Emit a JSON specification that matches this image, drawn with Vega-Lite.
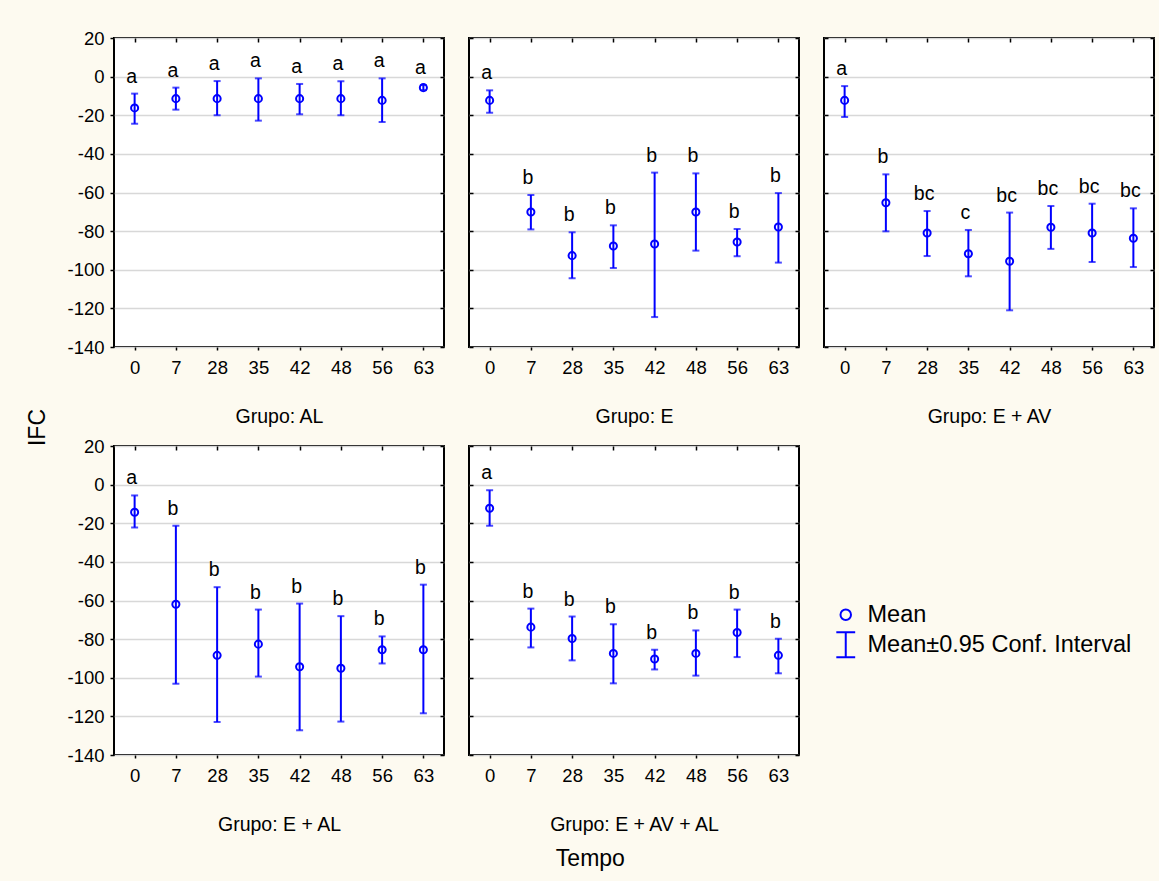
{
  "$schema": "https://vega.github.io/schema/vega-lite/v6.json",
  "background": "#fdfaf0",
  "padding": {"left": 25, "top": 28, "right": 4, "bottom": 12},
  "config": {
    "font": "Liberation Sans",
    "view": {"fill": "white", "stroke": "#000000", "strokeWidth": 2},
    "axis": {
      "labelFontSize": 18.5, "labelColor": "#000000", "tickColor": "#000000", "tickWidth": 1.5,
      "titleFontSize": 19.5, "titleFontWeight": "normal", "titleColor": "#000000",
      "gridColor": "#d8d8d8", "gridWidth": 1.5, "domain": false
    }
  },
  "title": {"text": "Tempo", "orient": "bottom", "anchor": "middle", "frame": "bounds", "fontSize": 23, "fontWeight": "normal", "color": "#000000", "offset": 13},
  "datasets": {
    "ifc": [
      {"g": "AL", "t": 0, "mean": -16.2, "lo": -24.4, "hi": -8.8, "lab": "a"},
      {"g": "AL", "t": 7, "mean": -11.4, "lo": -17.1, "hi": -5.7, "lab": "a"},
      {"g": "AL", "t": 28, "mean": -11.4, "lo": -20.0, "hi": -2.3, "lab": "a"},
      {"g": "AL", "t": 35, "mean": -11.4, "lo": -22.8, "hi": -0.9, "lab": "a"},
      {"g": "AL", "t": 42, "mean": -11.4, "lo": -19.5, "hi": -3.8, "lab": "a"},
      {"g": "AL", "t": 48, "mean": -11.4, "lo": -20.0, "hi": -2.4, "lab": "a"},
      {"g": "AL", "t": 56, "mean": -12.3, "lo": -23.5, "hi": -0.9, "lab": "a"},
      {"g": "AL", "t": 63, "mean": -5.7, "lo": -7.0, "hi": -4.4, "lab": "a"},
      {"g": "E", "t": 0, "mean": -12.3, "lo": -18.7, "hi": -7.1, "lab": "a"},
      {"g": "E", "t": 7, "mean": -70.1, "lo": -79.1, "hi": -61.3, "lab": "b"},
      {"g": "E", "t": 28, "mean": -92.7, "lo": -104.4, "hi": -80.6, "lab": "b"},
      {"g": "E", "t": 35, "mean": -87.7, "lo": -99.1, "hi": -77.0, "lab": "b"},
      {"g": "E", "t": 42, "mean": -86.7, "lo": -124.5, "hi": -49.7, "lab": "b"},
      {"g": "E", "t": 48, "mean": -70.1, "lo": -90.1, "hi": -50.1, "lab": "b"},
      {"g": "E", "t": 56, "mean": -85.6, "lo": -93.0, "hi": -78.9, "lab": "b"},
      {"g": "E", "t": 63, "mean": -77.9, "lo": -96.3, "hi": -60.3, "lab": "b"},
      {"g": "E + AV", "t": 0, "mean": -12.3, "lo": -20.9, "hi": -4.9, "lab": "a"},
      {"g": "E + AV", "t": 7, "mean": -65.3, "lo": -80.1, "hi": -50.6, "lab": "b"},
      {"g": "E + AV", "t": 28, "mean": -81.0, "lo": -92.9, "hi": -69.6, "lab": "bc"},
      {"g": "E + AV", "t": 35, "mean": -91.7, "lo": -103.4, "hi": -79.4, "lab": "c"},
      {"g": "E + AV", "t": 42, "mean": -95.6, "lo": -121.0, "hi": -70.4, "lab": "bc"},
      {"g": "E + AV", "t": 48, "mean": -78.0, "lo": -89.2, "hi": -67.0, "lab": "bc"},
      {"g": "E + AV", "t": 56, "mean": -81.0, "lo": -96.0, "hi": -65.8, "lab": "bc"},
      {"g": "E + AV", "t": 63, "mean": -83.7, "lo": -98.6, "hi": -68.2, "lab": "bc"},
      {"g": "E + AL", "t": 0, "mean": -14.3, "lo": -22.2, "hi": -5.6, "lab": "a"},
      {"g": "E + AL", "t": 7, "mean": -61.9, "lo": -103.1, "hi": -21.3, "lab": "b"},
      {"g": "E + AL", "t": 28, "mean": -88.4, "lo": -122.9, "hi": -53.1, "lab": "b"},
      {"g": "E + AL", "t": 35, "mean": -82.6, "lo": -99.4, "hi": -64.7, "lab": "b"},
      {"g": "E + AL", "t": 42, "mean": -94.3, "lo": -127.2, "hi": -61.6, "lab": "b"},
      {"g": "E + AL", "t": 48, "mean": -95.1, "lo": -122.7, "hi": -68.1, "lab": "b"},
      {"g": "E + AL", "t": 56, "mean": -85.5, "lo": -92.6, "hi": -78.6, "lab": "b"},
      {"g": "E + AL", "t": 63, "mean": -85.5, "lo": -118.4, "hi": -51.8, "lab": "b"},
      {"g": "E + AV + AL", "t": 0, "mean": -12.2, "lo": -21.3, "hi": -2.9, "lab": "a"},
      {"g": "E + AV + AL", "t": 7, "mean": -73.8, "lo": -84.3, "hi": -64.2, "lab": "b"},
      {"g": "E + AV + AL", "t": 28, "mean": -79.7, "lo": -91.0, "hi": -68.3, "lab": "b"},
      {"g": "E + AV + AL", "t": 35, "mean": -87.4, "lo": -102.9, "hi": -72.3, "lab": "b"},
      {"g": "E + AV + AL", "t": 42, "mean": -90.3, "lo": -95.7, "hi": -85.5, "lab": "b"},
      {"g": "E + AV + AL", "t": 48, "mean": -87.4, "lo": -98.9, "hi": -75.5, "lab": "b"},
      {"g": "E + AV + AL", "t": 56, "mean": -76.6, "lo": -89.3, "hi": -64.7, "lab": "b"},
      {"g": "E + AV + AL", "t": 63, "mean": -88.4, "lo": -97.7, "hi": -79.8, "lab": "b"}
    ]
  },
  "data": {"name": "ifc"},
  "columns": 3,
  "spacing": {"row": 99, "column": 25},
  "bounds": "flush",
  "concat": [
    {
      "width": 330, "height": 309,
      "transform": [{"filter": "datum.g === 'AL'"}],
      "layer": [
        {"mark": {"type": "rule", "color": "#0000ff", "strokeWidth": 2},
         "encoding": {
           "x": {"field": "t", "type": "ordinal", "scale": {"type": "point", "padding": 0.5}, "axis": {"orient": "bottom", "title": "Grupo: AL", "labelAngle": 0, "tickSize": 3, "labelPadding": 8, "titlePadding": 31, "grid": false}},
           "y": {"field": "lo", "type": "quantitative", "scale": {"domain": [-140, 20], "nice": false, "zero": false}, "axis": {"orient": "left", "title": null, "values": [-140, -120, -100, -80, -60, -40, -20, 0, 20], "labelExpr": "'' + datum.value", "grid": true, "tickSize": 4, "labelPadding": 6}},
           "y2": {"field": "hi"}}},
        {"mark": {"type": "tick", "color": "#0000ff", "thickness": 2, "size": 7},
         "encoding": {
           "x": {"field": "t", "type": "ordinal", "scale": {"type": "point", "padding": 0.5}, "axis": {"orient": "top", "title": null, "labels": false, "tickSize": -4, "grid": false}},
           "y": {"field": "lo", "type": "quantitative", "axis": {"orient": "right", "title": null, "labels": false, "values": [-140, -120, -100, -80, -60, -40, -20, 0, 20], "tickSize": -4, "grid": false}}}},
        {"mark": {"type": "tick", "color": "#0000ff", "thickness": 2, "size": 7},
         "encoding": {
           "x": {"field": "t", "type": "ordinal", "scale": {"type": "point", "padding": 0.5}, "axis": null},
           "y": {"field": "hi", "type": "quantitative", "axis": null}}},
        {"mark": {"type": "point", "shape": "circle", "filled": false, "color": "#0000ff", "strokeWidth": 2, "size": 50, "opacity": 1},
         "encoding": {
           "x": {"field": "t", "type": "ordinal", "scale": {"type": "point", "padding": 0.5}, "axis": null},
           "y": {"field": "mean", "type": "quantitative", "axis": null}}},
        {"mark": {"type": "text", "fontSize": 19.5, "color": "#000000", "baseline": "alphabetic", "dy": -11, "dx": -3},
         "encoding": {
           "x": {"field": "t", "type": "ordinal", "scale": {"type": "point", "padding": 0.5}, "axis": null},
           "y": {"field": "hi", "type": "quantitative", "axis": null},
           "text": {"field": "lab"}}}
      ],
      "resolve": {"axis": {"x": "independent", "y": "independent"}}
    },
    {
      "width": 330, "height": 309,
      "transform": [{"filter": "datum.g === 'E'"}],
      "layer": [
        {"mark": {"type": "rule", "color": "#0000ff", "strokeWidth": 2},
         "encoding": {
           "x": {"field": "t", "type": "ordinal", "scale": {"type": "point", "padding": 0.5}, "axis": {"orient": "bottom", "title": "Grupo: E", "labelAngle": 0, "tickSize": 3, "labelPadding": 8, "titlePadding": 31, "grid": false}},
           "y": {"field": "lo", "type": "quantitative", "scale": {"domain": [-140, 20], "nice": false, "zero": false}, "axis": {"orient": "left", "title": null, "labels": false, "values": [-140, -120, -100, -80, -60, -40, -20, 0, 20], "grid": true, "tickSize": -4}},
           "y2": {"field": "hi"}}},
        {"mark": {"type": "tick", "color": "#0000ff", "thickness": 2, "size": 7},
         "encoding": {
           "x": {"field": "t", "type": "ordinal", "scale": {"type": "point", "padding": 0.5}, "axis": {"orient": "top", "title": null, "labels": false, "tickSize": -4, "grid": false}},
           "y": {"field": "lo", "type": "quantitative", "axis": {"orient": "right", "title": null, "labels": false, "values": [-140, -120, -100, -80, -60, -40, -20, 0, 20], "tickSize": -4, "grid": false}}}},
        {"mark": {"type": "tick", "color": "#0000ff", "thickness": 2, "size": 7},
         "encoding": {
           "x": {"field": "t", "type": "ordinal", "scale": {"type": "point", "padding": 0.5}, "axis": null},
           "y": {"field": "hi", "type": "quantitative", "axis": null}}},
        {"mark": {"type": "point", "shape": "circle", "filled": false, "color": "#0000ff", "strokeWidth": 2, "size": 50, "opacity": 1},
         "encoding": {
           "x": {"field": "t", "type": "ordinal", "scale": {"type": "point", "padding": 0.5}, "axis": null},
           "y": {"field": "mean", "type": "quantitative", "axis": null}}},
        {"mark": {"type": "text", "fontSize": 19.5, "color": "#000000", "baseline": "alphabetic", "dy": -11, "dx": -3},
         "encoding": {
           "x": {"field": "t", "type": "ordinal", "scale": {"type": "point", "padding": 0.5}, "axis": null},
           "y": {"field": "hi", "type": "quantitative", "axis": null},
           "text": {"field": "lab"}}}
      ],
      "resolve": {"axis": {"x": "independent", "y": "independent"}}
    },
    {
      "width": 330, "height": 309,
      "transform": [{"filter": "datum.g === 'E + AV'"}],
      "layer": [
        {"mark": {"type": "rule", "color": "#0000ff", "strokeWidth": 2},
         "encoding": {
           "x": {"field": "t", "type": "ordinal", "scale": {"type": "point", "padding": 0.5}, "axis": {"orient": "bottom", "title": "Grupo: E + AV", "labelAngle": 0, "tickSize": 3, "labelPadding": 8, "titlePadding": 31, "grid": false}},
           "y": {"field": "lo", "type": "quantitative", "scale": {"domain": [-140, 20], "nice": false, "zero": false}, "axis": {"orient": "left", "title": null, "labels": false, "values": [-140, -120, -100, -80, -60, -40, -20, 0, 20], "grid": true, "tickSize": -4}},
           "y2": {"field": "hi"}}},
        {"mark": {"type": "tick", "color": "#0000ff", "thickness": 2, "size": 7},
         "encoding": {
           "x": {"field": "t", "type": "ordinal", "scale": {"type": "point", "padding": 0.5}, "axis": {"orient": "top", "title": null, "labels": false, "tickSize": -4, "grid": false}},
           "y": {"field": "lo", "type": "quantitative", "axis": {"orient": "right", "title": null, "labels": false, "values": [-140, -120, -100, -80, -60, -40, -20, 0, 20], "tickSize": -4, "grid": false}}}},
        {"mark": {"type": "tick", "color": "#0000ff", "thickness": 2, "size": 7},
         "encoding": {
           "x": {"field": "t", "type": "ordinal", "scale": {"type": "point", "padding": 0.5}, "axis": null},
           "y": {"field": "hi", "type": "quantitative", "axis": null}}},
        {"mark": {"type": "point", "shape": "circle", "filled": false, "color": "#0000ff", "strokeWidth": 2, "size": 50, "opacity": 1},
         "encoding": {
           "x": {"field": "t", "type": "ordinal", "scale": {"type": "point", "padding": 0.5}, "axis": null},
           "y": {"field": "mean", "type": "quantitative", "axis": null}}},
        {"mark": {"type": "text", "fontSize": 19.5, "color": "#000000", "baseline": "alphabetic", "dy": -11, "dx": -3},
         "encoding": {
           "x": {"field": "t", "type": "ordinal", "scale": {"type": "point", "padding": 0.5}, "axis": null},
           "y": {"field": "hi", "type": "quantitative", "axis": null},
           "text": {"field": "lab"}}}
      ],
      "resolve": {"axis": {"x": "independent", "y": "independent"}}
    },
    {
      "width": 330, "height": 309,
      "transform": [{"filter": "datum.g === 'E + AL'"}],
      "layer": [
        {"mark": {"type": "rule", "color": "#0000ff", "strokeWidth": 2},
         "encoding": {
           "x": {"field": "t", "type": "ordinal", "scale": {"type": "point", "padding": 0.5}, "axis": {"orient": "bottom", "title": "Grupo: E + AL", "labelAngle": 0, "tickSize": 3, "labelPadding": 8, "titlePadding": 31, "grid": false}},
           "y": {"field": "lo", "type": "quantitative", "scale": {"domain": [-140, 20], "nice": false, "zero": false}, "axis": {"orient": "left", "title": "IFC", "titleFontSize": 23, "titleX": -65, "titleY": -19, "values": [-140, -120, -100, -80, -60, -40, -20, 0, 20], "labelExpr": "'' + datum.value", "grid": true, "tickSize": 4, "labelPadding": 6}},
           "y2": {"field": "hi"}}},
        {"mark": {"type": "tick", "color": "#0000ff", "thickness": 2, "size": 7},
         "encoding": {
           "x": {"field": "t", "type": "ordinal", "scale": {"type": "point", "padding": 0.5}, "axis": {"orient": "top", "title": null, "labels": false, "tickSize": -4, "grid": false}},
           "y": {"field": "lo", "type": "quantitative", "axis": {"orient": "right", "title": null, "labels": false, "values": [-140, -120, -100, -80, -60, -40, -20, 0, 20], "tickSize": -4, "grid": false}}}},
        {"mark": {"type": "tick", "color": "#0000ff", "thickness": 2, "size": 7},
         "encoding": {
           "x": {"field": "t", "type": "ordinal", "scale": {"type": "point", "padding": 0.5}, "axis": null},
           "y": {"field": "hi", "type": "quantitative", "axis": null}}},
        {"mark": {"type": "point", "shape": "circle", "filled": false, "color": "#0000ff", "strokeWidth": 2, "size": 50, "opacity": 1},
         "encoding": {
           "x": {"field": "t", "type": "ordinal", "scale": {"type": "point", "padding": 0.5}, "axis": null},
           "y": {"field": "mean", "type": "quantitative", "axis": null}}},
        {"mark": {"type": "text", "fontSize": 19.5, "color": "#000000", "baseline": "alphabetic", "dy": -11, "dx": -3},
         "encoding": {
           "x": {"field": "t", "type": "ordinal", "scale": {"type": "point", "padding": 0.5}, "axis": null},
           "y": {"field": "hi", "type": "quantitative", "axis": null},
           "text": {"field": "lab"}}}
      ],
      "resolve": {"axis": {"x": "independent", "y": "independent"}}
    },
    {
      "width": 330, "height": 309,
      "transform": [{"filter": "datum.g === 'E + AV + AL'"}],
      "layer": [
        {"mark": {"type": "rule", "color": "#0000ff", "strokeWidth": 2},
         "encoding": {
           "x": {"field": "t", "type": "ordinal", "scale": {"type": "point", "padding": 0.5}, "axis": {"orient": "bottom", "title": "Grupo: E + AV + AL", "labelAngle": 0, "tickSize": 3, "labelPadding": 8, "titlePadding": 31, "grid": false}},
           "y": {"field": "lo", "type": "quantitative", "scale": {"domain": [-140, 20], "nice": false, "zero": false}, "axis": {"orient": "left", "title": null, "labels": false, "values": [-140, -120, -100, -80, -60, -40, -20, 0, 20], "grid": true, "tickSize": -4}},
           "y2": {"field": "hi"}}},
        {"mark": {"type": "tick", "color": "#0000ff", "thickness": 2, "size": 7},
         "encoding": {
           "x": {"field": "t", "type": "ordinal", "scale": {"type": "point", "padding": 0.5}, "axis": {"orient": "top", "title": null, "labels": false, "tickSize": -4, "grid": false}},
           "y": {"field": "lo", "type": "quantitative", "axis": {"orient": "right", "title": null, "labels": false, "values": [-140, -120, -100, -80, -60, -40, -20, 0, 20], "tickSize": -4, "grid": false}}}},
        {"mark": {"type": "tick", "color": "#0000ff", "thickness": 2, "size": 7},
         "encoding": {
           "x": {"field": "t", "type": "ordinal", "scale": {"type": "point", "padding": 0.5}, "axis": null},
           "y": {"field": "hi", "type": "quantitative", "axis": null}}},
        {"mark": {"type": "point", "filled": false, "color": "#0000ff", "strokeWidth": 2, "size": 50, "opacity": 1},
         "encoding": {
           "x": {"field": "t", "type": "ordinal", "scale": {"type": "point", "padding": 0.5}, "axis": null},
           "y": {"field": "mean", "type": "quantitative", "axis": null},
           "shape": {"datum": "Mean", "type": "nominal",
             "scale": {"domain": ["Mean", "Mean±0.95 Conf. Interval"], "range": ["circle", "M-1.8,-2.4H1.8M0,-2.4V2.4M-1.8,2.4H1.8"]},
             "legend": {"title": null, "orient": "none", "legendX": 720, "legendY": 565, "padding": 0, "labelFontSize": 23.5, "labelColor": "#000000", "labelLimit": 400, "labelOffset": 10, "rowPadding": 1, "symbolSize": 110, "symbolStrokeWidth": 2, "symbolStrokeColor": "#0000ff", "symbolFillColor": "transparent"}}}},
        {"mark": {"type": "text", "fontSize": 19.5, "color": "#000000", "baseline": "alphabetic", "dy": -11, "dx": -3},
         "encoding": {
           "x": {"field": "t", "type": "ordinal", "scale": {"type": "point", "padding": 0.5}, "axis": null},
           "y": {"field": "hi", "type": "quantitative", "axis": null},
           "text": {"field": "lab"}}}
      ],
      "resolve": {"axis": {"x": "independent", "y": "independent"}}
    }
  ]
}
